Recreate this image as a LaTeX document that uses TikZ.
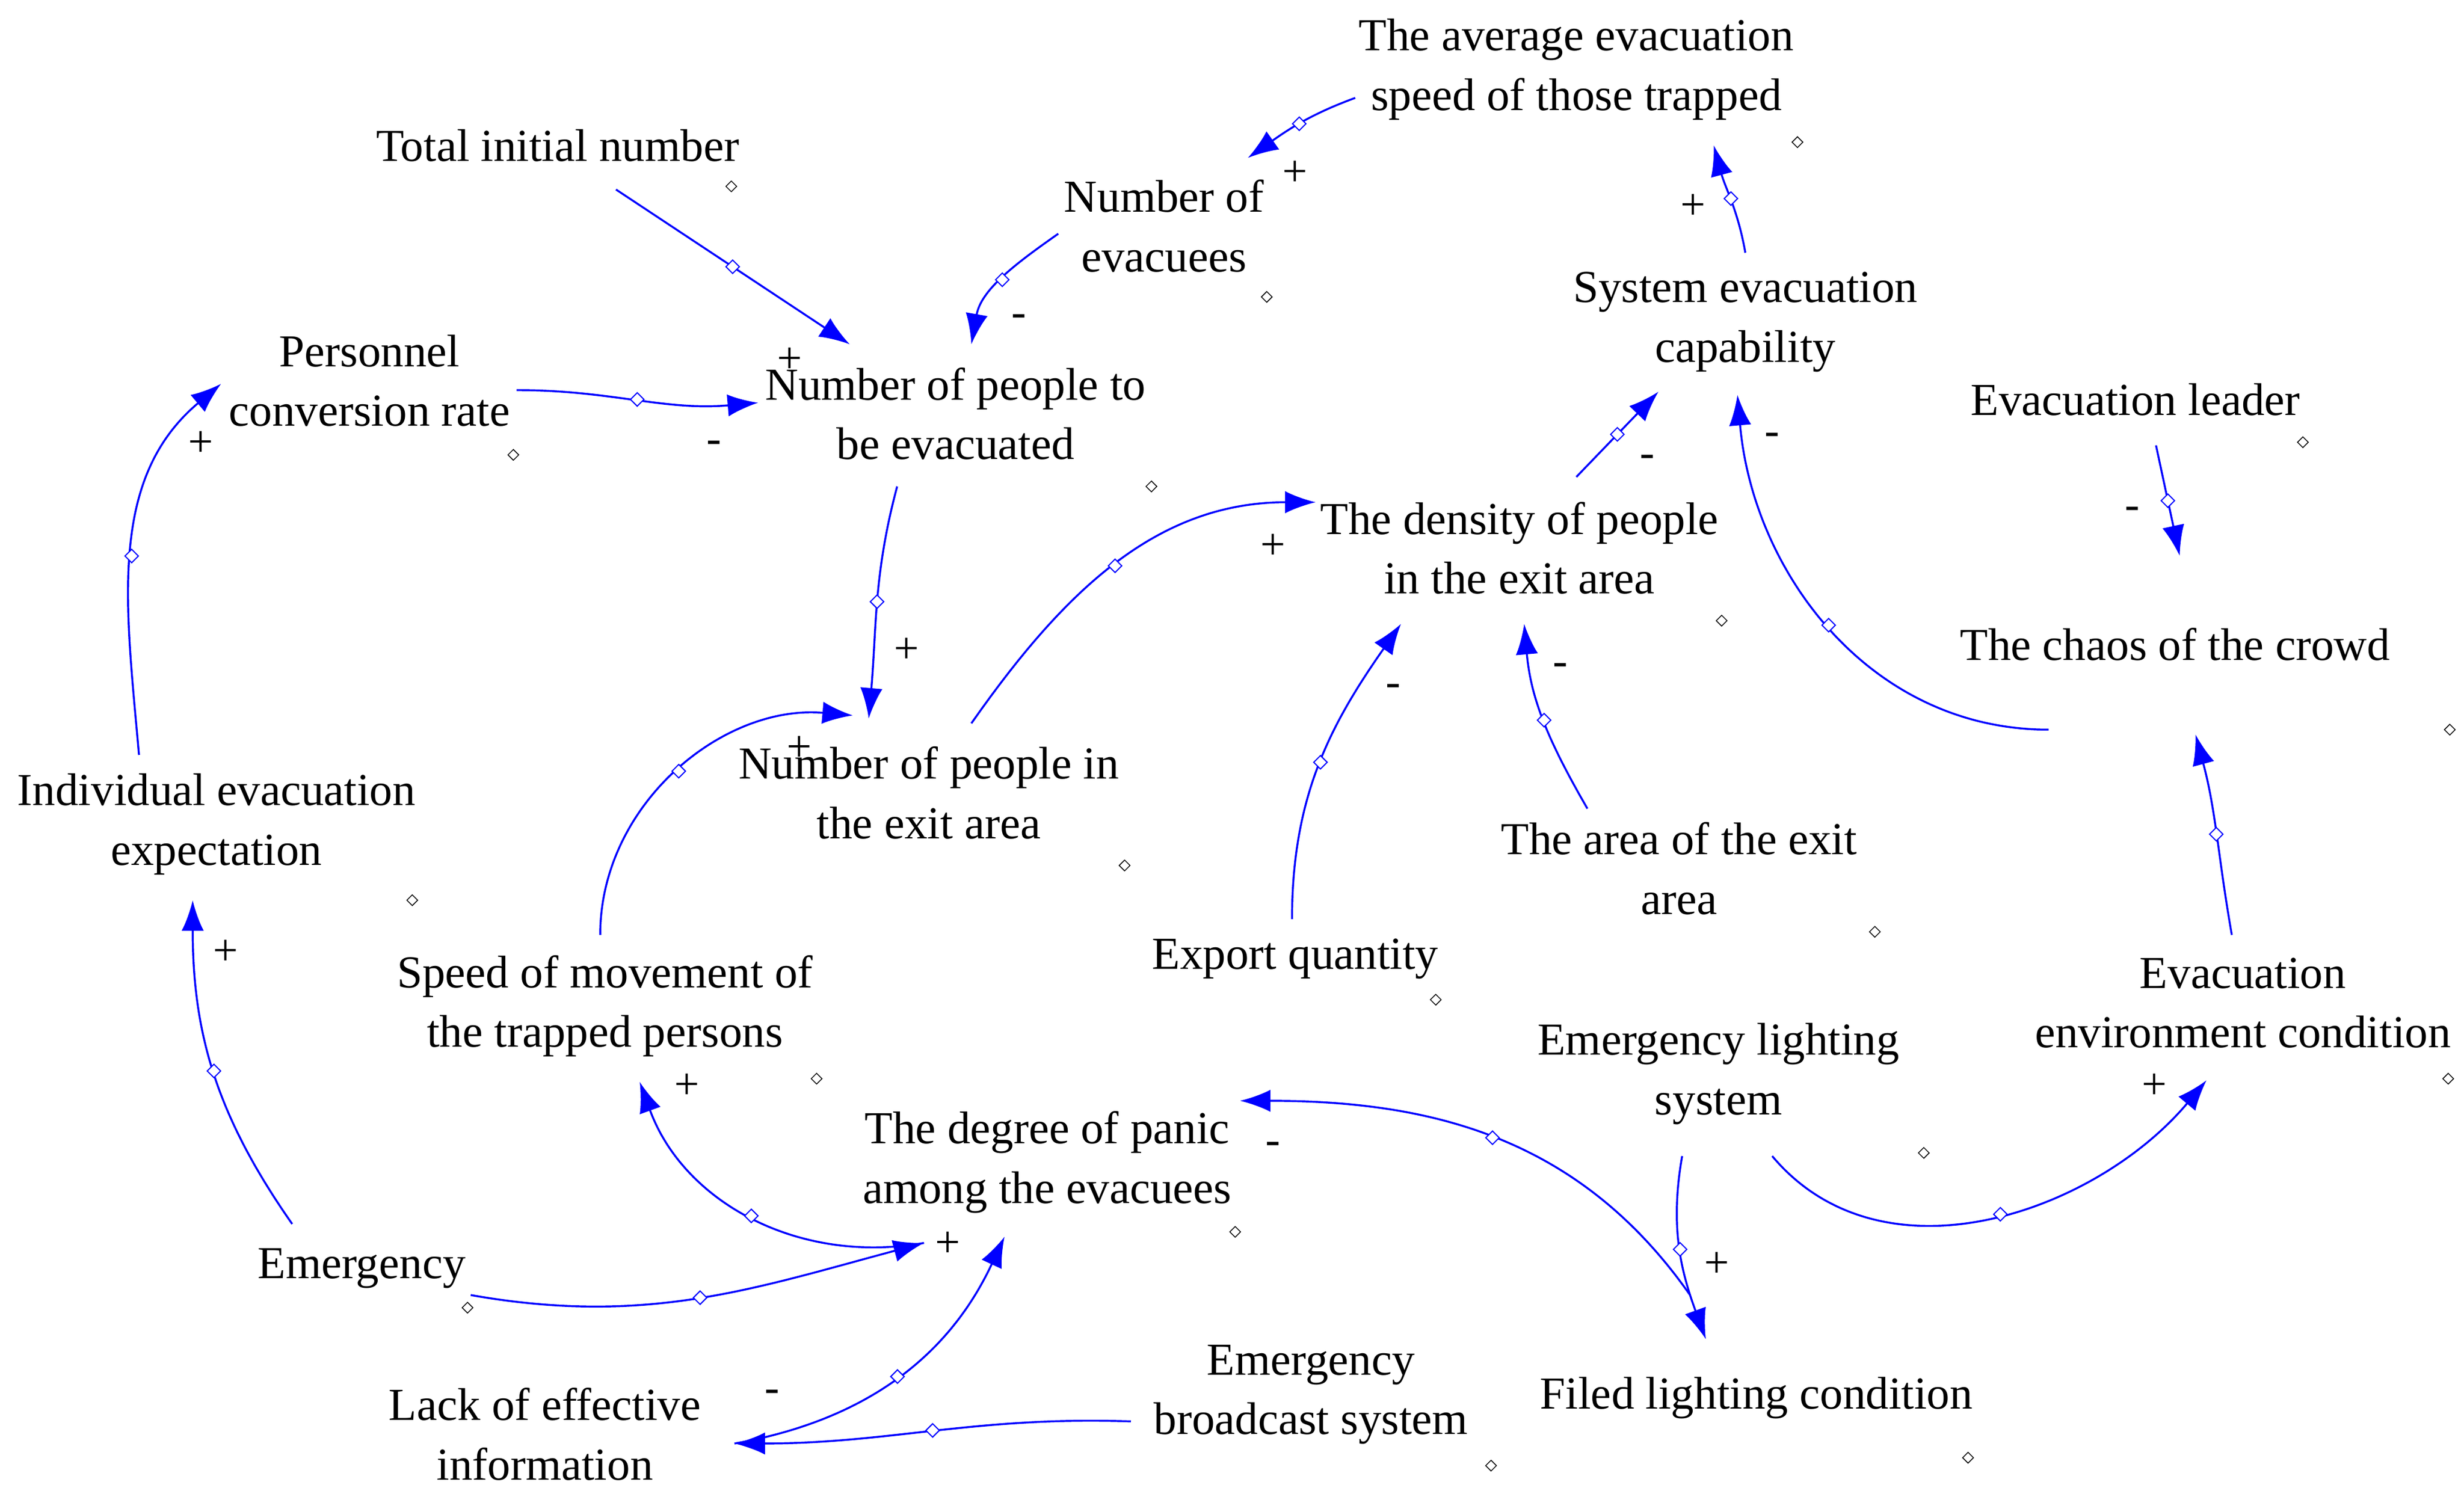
\documentclass[tikz,border=0pt]{standalone}
\usepackage{fontspec}
\setmainfont{Liberation Serif}
\usetikzlibrary{shapes.geometric,decorations.markings,arrows.meta,calc}
\begin{document}
\begin{tikzpicture}[x=0.02cm,y=-0.02cm,
 lbl/.style={align=center,font=\fontsize{16.5}{21.5}\selectfont,inner sep=1pt},
 sg/.style={font=\fontsize{16}{18}\selectfont,inner sep=0pt},
 dm/.style={diamond,draw=black,line width=0.3pt,inner sep=0pt,minimum size=4pt,fill=white},
 lk/.style={blue,line width=0.7pt,-{Latex[length=11pt,width=8pt]},
   postaction={decorate,decoration={markings,mark=at position .5 with {\node[diamond,draw=blue,fill=white,inner sep=0pt,minimum size=5pt,line width=0.4pt]{};}}}}]
\useasboundingbox (0,0) rectangle (1560,944);
\node[lbl] (avg) at (998,44) {The average evacuation\\speed of those trapped};
\node[lbl] (noe) at (737,143) {Number of\\evacuees};
\node[lbl] (tin) at (353,92) {Total initial number};
\node[lbl] (pcr) at (234,241) {Personnel\\conversion rate};
\node[lbl] (npe) at (605,262) {Number of people to\\be evacuated};
\node[lbl] (sec) at (1105,204) {System evacuation\\capability};
\node[lbl] (el) at (1352,253) {Evacuation leader};
\node[lbl] (dens) at (962,347) {The density of people\\in the exit area};
\node[lbl] (chaos) at (1377,408) {The chaos of the crowd};
\node[lbl] (iee) at (137,522) {Individual evacuation\\expectation};
\node[lbl] (npx) at (588,502) {Number of people in\\the exit area};
\node[lbl] (area) at (1063,550) {The area of the exit\\area};
\node[lbl] (exq) at (820,607) {Export quantity};
\node[lbl] (spd) at (383,637) {Speed of movement of\\the trapped persons};
\node[lbl] (els) at (1088,680) {Emergency lighting\\system};
\node[lbl] (eec) at (1420,635) {Evacuation\\environment condition};
\node[lbl] (panic) at (663,736) {The degree of panic\\among the evacuees};
\node[lbl] (emg) at (229,803) {Emergency};
\node[lbl] (loi) at (345,908) {Lack of effective\\information};
\node[lbl] (ebs) at (830,883) {Emergency\\broadcast system};
\node[lbl] (flc) at (1112,885) {Filed lighting condition};

\draw[lk] ($(sec)+(0,-44)$) to[out=100,in=-75] ($(avg)+(87,48)$);
\draw[lk] ($(avg)+(-140,18)$) to[out=200,in=35] ($(noe)+(53,-43)$);
\draw[lk] ($(noe)+(-67,5)$) to[out=215,in=80] ($(npe)+(10,-44)$);
\draw[lk] ($(tin)+(37,28)$) -- ($(npe)+(-67,-44)$);
\draw[lk] ($(pcr)+(93,6)$) to[out=0,in=185] ($(npe)+(-125,-7)$);
\draw[lk] ($(npe)+(-37,46)$) to[out=-105,in=85] ($(npx)+(-38,-47)$);
\draw[lk] ($(npx)+(27,-44)$) to[out=55,in=180] ($(dens)+(-129,-29)$);
\draw[lk] ($(dens)+(36,-45)$) -- ($(sec)+(-55,44)$);
\draw[lk] ($(chaos)+(-80,54)$) to[out=180,in=-85] ($(sec)+(-5,46)$);
\draw[lk] ($(el)+(13,29)$) -- ($(chaos)+(3,-56)$);
\draw[lk] ($(area)+(-58,-38)$) to[out=120,in=-85] ($(dens)+(3,48)$);
\draw[lk] ($(exq)+(-2,-25)$) to[out=90,in=-125] ($(dens)+(-75,48)$);
\draw[lk] ($(eec)+(-7,-43)$) to[out=100,in=-75] ($(chaos)+(13,57)$);
\draw[lk] ($(els)+(34,52)$) to[out=-50,in=-130] ($(eec)+(-23,49)$);
\draw[lk] ($(els)+(-23,52)$) to[out=-100,in=110] ($(flc)+(-32,-37)$);
\draw[lk] ($(flc)+(-42,-65)$) to[out=125,in=0] ($(panic)+(122,-39)$);
\draw[lk] ($(spd)+(-3,-45)$) to[out=90,in=175] ($(npx)+(-48,-49)$);
\draw[lk] ($(panic)+(-78,51)$) to[out=190,in=-70] ($(spd)+(22,48)$);
\draw[lk] ($(emg)+(69,17)$) to[out=-10,in=195] ($(panic)+(-78,51)$);
\draw[lk] ($(loi)+(120,6)$) to[out=10,in=-115] ($(panic)+(-27,47)$);
\draw[lk] ($(ebs)+(-114,17)$) to[out=178,in=0] ($(loi)+(120,6)$);
\draw[lk] ($(emg)+(-44,-28)$) to[out=125,in=-90] ($(iee)+(-15,48)$);
\draw[lk] ($(iee)+(-49,-44)$) to[out=95,in=-140] ($(pcr)+(-94,2)$);

\foreach \p in {(463,118),(1138,90),(802,188),(325,288),(729,308),(1090,393),(1458,280),(1551,462),(261,570),(712,548),(1187,590),(909,633),(517,683),(1218,730),(1550,683),(782,780),(296,828),(944,928),(1246,923)}
  \node[dm] at \p {};

\foreach \s/\p in {+/{(820,110)},-/{(645,203)},+/{(500,228)},-/{(452,283)},+/{(127,281)},+/{(574,412)},+/{(806,346)},-/{(1043,292)},-/{(1122,278)},-/{(1350,325)},-/{(882,437)},-/{(988,424)},+/{(1072,131)},+/{(143,603)},+/{(435,688)},-/{(806,727)},+/{(600,788)},+/{(1364,688)},+/{(1087,801)},-/{(489,884)},+/{(506,474)}}
  \node[sg] at \p {\s};
\end{tikzpicture}
\end{document}
